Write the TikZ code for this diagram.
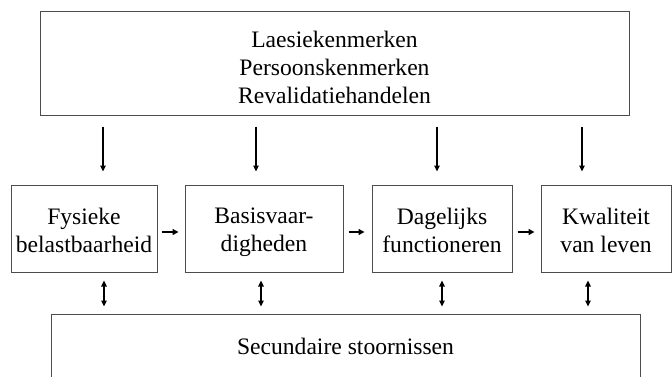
\documentclass[tikz,border=0pt]{standalone}
\usepackage{fontspec}
\setmainfont{Liberation Serif}
\usetikzlibrary{arrows.meta}
\begin{document}
\begin{tikzpicture}[x=1pt,y=-1pt,
  box/.style={draw=black!70, line width=1pt, inner sep=0pt},
  txt/.style={inner sep=0pt, align=center, text depth=0pt,
    font=\fontsize{23.6}{28}\selectfont},
  feed/.style={line width=1.6pt, -{Triangle[width=5.5pt,length=6pt]}},
  twoway/.style={line width=1.6pt,
    {Triangle[width=5.5pt,length=6pt]}-{Triangle[width=5.5pt,length=6pt]}},
  flow/.style={line width=2.2pt, -{Triangle[width=6pt,length=6pt]}}]
\useasboundingbox (0,0) rectangle (672,376);

% determinants
\node[box, minimum width=589pt, minimum height=104pt] (top) at (334.5,63) {};
\node[txt, yshift=-4pt] (ttop) at (top.center)
  {Laesiekenmerken\\Persoonskenmerken\\Revalidatiehandelen};

% outcome chain
\node[box, minimum width=146pt, minimum height=87pt] (b1) at (84,228.5) {};
\node[box, minimum width=158pt, minimum height=87pt] (b2) at (264,228.5) {};
\node[box, minimum width=140pt, minimum height=87pt] (b3) at (442,228.5) {};
\node[box, minimum width=130pt, minimum height=87pt] (b4) at (606,228.5) {};
\node[txt, yshift=-1.5pt] (t1) at (b1.center) {Fysieke\\belastbaarheid};
\node[txt, yshift=-1.5pt] (t2) at (b2.center) {Basisvaar-\\digheden};
\node[txt, yshift=-1.5pt] (t3) at (b3.center) {Dagelijks\\functioneren};
\node[txt, yshift=-1.5pt] (t4) at (b4.center) {Kwaliteit\\van leven};

% secondary conditions (runs past the lower edge)
\node[box, minimum width=589pt, minimum height=80pt] (bot) at (345.5,354) {};
\node[txt, anchor=base] (tbot) at (345.5,354) {Secundaire stoornissen};

% arrow positions
\coordinate (c1) at (103,0);
\coordinate (c2) at (256,0);
\coordinate (c3) at (437,0);
\coordinate (c4) at (582,0);
\coordinate (d1) at (104,0);
\coordinate (d2) at (261,0);
\coordinate (d3) at (442,0);
\coordinate (d4) at (588,0);
\coordinate (hy) at (0,232);

% influences from the top box
\draw[feed, shorten <=11pt, shorten >=13pt] (top.south -| c1) -- (b1.north -| c1);
\draw[feed, shorten <=11pt, shorten >=13pt] (top.south -| c2) -- (b2.north -| c2);
\draw[feed, shorten <=11pt, shorten >=13pt] (top.south -| c3) -- (b3.north -| c3);
\draw[feed, shorten <=11pt, shorten >=13pt] (top.south -| c4) -- (b4.north -| c4);

% chain
\draw[flow, shorten <=4pt, shorten >=6pt] (b1.east |- hy) -- (b2.west |- hy);
\draw[flow, shorten <=5pt, shorten >=7pt] (b2.east |- hy) -- (b3.west |- hy);
\draw[flow, shorten <=5pt, shorten >=6pt] (b3.east |- hy) -- (b4.west |- hy);

% interactions with secondary conditions
\draw[twoway, shorten <=8pt, shorten >=7pt] (b1.south -| d1) -- (bot.north -| d1);
\draw[twoway, shorten <=8pt, shorten >=7pt] (b2.south -| d2) -- (bot.north -| d2);
\draw[twoway, shorten <=8pt, shorten >=7pt] (b3.south -| d3) -- (bot.north -| d3);
\draw[twoway, shorten <=8pt, shorten >=7pt] (b4.south -| d4) -- (bot.north -| d4);
\end{tikzpicture}
\end{document}
